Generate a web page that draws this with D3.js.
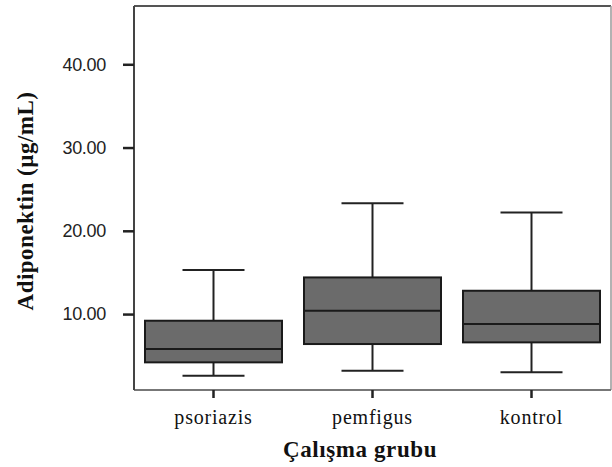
<!DOCTYPE html>
<html><head><meta charset="utf-8">
<script src="https://cdn.jsdelivr.net/npm/d3@7"></script>
<style>body{margin:0;background:#fff}svg{display:block}</style>
</head><body>
<svg id="c" width="612" height="467"></svg>
<script>
const categories = ["psoriazis", "pemfigus", "kontrol"];
const whiskerLow = [2.6, 3.2, 3.0];
const q1 = [4.2, 6.4, 6.6];
const median = [5.8, 10.4, 8.8];
const q3 = [9.2, 14.4, 12.8];
const whiskerHigh = [15.3, 23.3, 22.2];
const yTicks = [10, 20, 30, 40];

const svg = d3.select("#c");
const L = 134, R = 611, T = 6, B = 390;
const x = d3.scaleBand().domain(categories).range([L, R]).padding(0);
const y = d3.scaleLinear().domain([0.88, 47]).range([B, T]);

const data = categories.map((c, i) => ({c, lo: whiskerLow[i], q1: q1[i], med: median[i], q3: q3[i], hi: whiskerHigh[i]}));

// frame
svg.append("line").attr("x1", L).attr("x2", R).attr("y1", T).attr("y2", T).attr("stroke", "#555").attr("stroke-width", 2);
svg.append("line").attr("x1", R).attr("x2", R).attr("y1", T).attr("y2", B).attr("stroke", "#999").attr("stroke-width", 1.5);
svg.append("line").attr("x1", L).attr("x2", R).attr("y1", B).attr("y2", B).attr("stroke", "#777").attr("stroke-width", 2);
svg.append("line").attr("x1", L).attr("x2", L).attr("y1", T).attr("y2", B).attr("stroke", "#444").attr("stroke-width", 2);

// y axis
const ya = svg.append("g").attr("transform", `translate(${L},0)`)
  .call(d3.axisLeft(y).tickValues(yTicks).tickSize(11).tickPadding(17).tickFormat(d3.format(".2f")));
ya.select(".domain").remove();
ya.selectAll(".tick line").attr("stroke", "#222").attr("stroke-width", 2.5);
ya.selectAll(".tick text").attr("font-family", "Liberation Sans, Arial, sans-serif").attr("font-size", 18).attr("fill", "#222").attr("letter-spacing", "-0.3");

// x axis
const xa = svg.append("g").attr("transform", `translate(0,${B})`)
  .call(d3.axisBottom(x).tickSize(8).tickPadding(12));
xa.select(".domain").remove();
xa.selectAll(".tick line").attr("stroke", "#222").attr("stroke-width", 2.5);
xa.selectAll(".tick text").attr("font-family", "Liberation Serif, Times New Roman, serif").attr("font-size", 20).attr("fill", "#111").attr("letter-spacing", "0.8");

// boxes
const bw = 137, cw = 62;
const g = svg.append("g").selectAll("g").data(data).join("g")
  .attr("transform", d => `translate(${x(d.c) + x.bandwidth() / 2},0)`);
g.append("line").attr("y1", d => y(d.hi)).attr("y2", d => y(d.q3)).attr("stroke", "#222").attr("stroke-width", 2);
g.append("line").attr("y1", d => y(d.q1)).attr("y2", d => y(d.lo)).attr("stroke", "#222").attr("stroke-width", 2);
g.append("line").attr("x1", -cw / 2).attr("x2", cw / 2).attr("y1", d => y(d.hi)).attr("y2", d => y(d.hi)).attr("stroke", "#222").attr("stroke-width", 2);
g.append("line").attr("x1", -cw / 2).attr("x2", cw / 2).attr("y1", d => y(d.lo)).attr("y2", d => y(d.lo)).attr("stroke", "#222").attr("stroke-width", 2);
g.append("rect").attr("x", -bw / 2).attr("width", bw).attr("y", d => y(d.q3)).attr("height", d => y(d.q1) - y(d.q3))
  .attr("fill", "#6b6b6b").attr("stroke", "#1a1a1a").attr("stroke-width", 2);
g.append("line").attr("x1", -bw / 2).attr("x2", bw / 2).attr("y1", d => y(d.med)).attr("y2", d => y(d.med)).attr("stroke", "#1a1a1a").attr("stroke-width", 2);

// titles
svg.append("text").attr("x", 360).attr("y", 457).attr("text-anchor", "middle")
  .attr("font-family", "Liberation Serif, Times New Roman, serif").attr("font-weight", "bold").attr("font-size", 23).attr("fill", "#111").attr("letter-spacing", "0.6")
  .text("Çalışma grubu");
svg.append("text").attr("transform", "translate(33,201) rotate(-90)").attr("text-anchor", "middle")
  .attr("font-family", "Liberation Serif, Times New Roman, serif").attr("font-weight", "bold").attr("font-size", 23).attr("fill", "#111").attr("letter-spacing", "0.5")
  .text("Adiponektin (µg/mL)");
</script>
</body></html>
